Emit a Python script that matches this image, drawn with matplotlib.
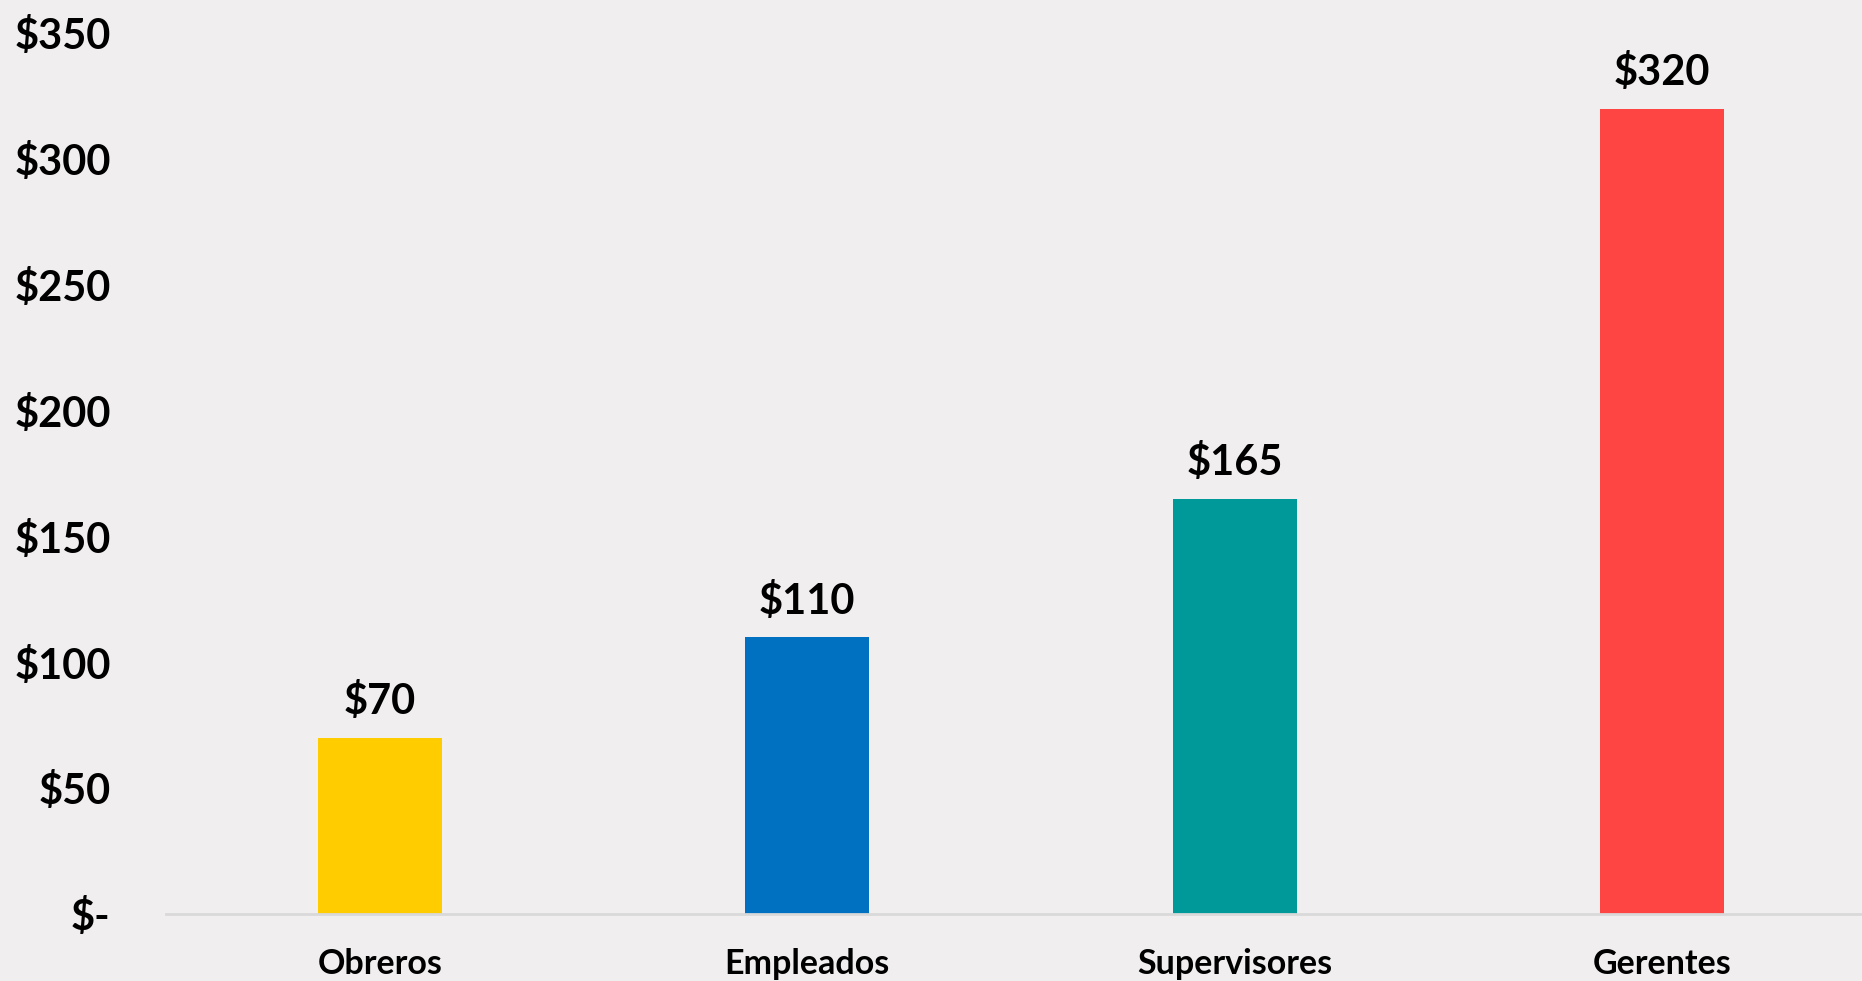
import matplotlib
matplotlib.use("Agg")
import matplotlib.pyplot as plt
from matplotlib.ticker import FuncFormatter

categorias = ["Obreros", "Empleados", "Supervisores", "Gerentes"]
salarios = [70, 110, 165, 320]
colores = ["#FFCC00", "#0070C0", "#009999", "#FF4444"]
yticks = [0, 50, 100, 150, 200, 250, 300, 350]

fondo = "#F0EEEF"
plt.rcParams['font.family'] = ['Lato', 'DejaVu Sans']

fig = plt.figure(figsize=(18.62, 9.81), dpi=100, facecolor=fondo)
ax = fig.add_axes([0.0893, 0.068, 0.918, 0.898])
ax.set_facecolor(fondo)

x = range(len(categorias))
barras = ax.bar(x, salarios, width=0.29, color=colores, zorder=2)

for xi, v in zip(x, salarios):
    ax.annotate("$" + str(v), (xi, v), xytext=(0, 12), textcoords="offset points",
                ha="center", va="bottom", fontsize=30, fontweight="bold")

ax.set_xlim(-0.5, 3.5)
ax.set_ylim(0, 350)
ax.set_yticks(yticks)
ax.yaxis.set_major_formatter(FuncFormatter(lambda v, p: "$-" if v == 0 else "$%d" % v))
ax.set_xticks(list(x))
ax.set_xticklabels(categorias)

for s in ["top", "right", "left"]:
    ax.spines[s].set_visible(False)
ax.spines["bottom"].set_color("#D9D9D9")
ax.spines["bottom"].set_linewidth(2)

ax.tick_params(axis="y", length=0, pad=40, labelsize=30)
ax.tick_params(axis="x", length=0, pad=24, labelsize=24.5)
for lab in ax.get_yticklabels() + ax.get_xticklabels():
    lab.set_fontweight("bold")

fig.savefig("out.png", dpi=100, facecolor=fondo)
